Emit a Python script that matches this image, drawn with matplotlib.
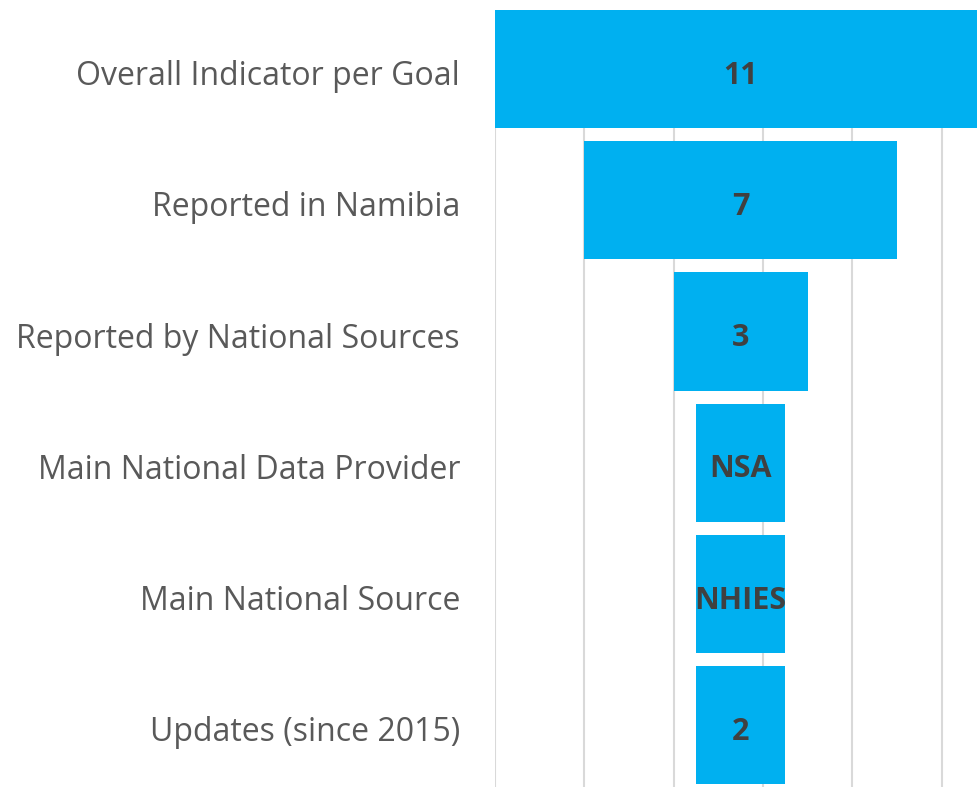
import numpy as np
import matplotlib
matplotlib.use("Agg")
from matplotlib import pyplot as plt
from matplotlib.transforms import ScaledTranslation

# funnel stages, top to bottom
stages = ["Overall Indicator per Goal", "Reported in Namibia",
          "Reported by National Sources", "Main National Data Provider",
          "Main National Source", "Updates (since 2015)"]
widths = [11, 7, 3, 2, 2, 2]
bar_labels = ["11", "7", "3", "NSA", "NHIES", "2"]

blue = "#00B0F0"
full = max(widths)

fig = plt.figure(figsize=(9.77, 7.87), dpi=100)
top_px, bot_px = 10, 790.9
ax = fig.add_axes([494.8 / 977, (787 - bot_px) / 787,
                   1 - 494.8 / 977, (bot_px - top_px) / 787])

# nudge text down a little (Calibri-like baseline)
tick_shift = ScaledTranslation(0, -3.5 / 100, fig.dpi_scale_trans)
val_shift = ScaledTranslation(0, -6.5 / 100, fig.dpi_scale_trans)

y = np.arange(len(stages))
offset = [(full - w) / 2 for w in widths]
ax.barh(y, widths, left=offset, height=0.9, color=blue, zorder=2)

for yi, off, w, lab in zip(y, offset, widths, bar_labels):
    ax.text(off + w / 2, yi, lab, ha="center", va="center",
            fontsize=22, fontweight="bold", color="#404040",
            family="Open Sans", zorder=3, transform=ax.transData + val_shift)

ax.set_ylim(len(stages) - 0.5, -0.45)
ax.set_xlim(0, 10.79)
ax.set_xticks(np.arange(0, 12, 2))
ax.xaxis.grid(True, color="#D9D9D9", linewidth=1.5, zorder=0)
ax.set_axisbelow(True)
ax.tick_params(axis="x", bottom=False, labelbottom=False)
ax.set_yticks(y)
ax.set_yticklabels(stages, fontsize=23, color="#595959", family="Open Sans")
ax.tick_params(axis="y", length=0, pad=25)
for lbl in ax.get_yticklabels():
    lbl.set_transform(lbl.get_transform() + tick_shift)
for s in ax.spines.values():
    s.set_visible(False)

fig.savefig("out.png", dpi=100)
